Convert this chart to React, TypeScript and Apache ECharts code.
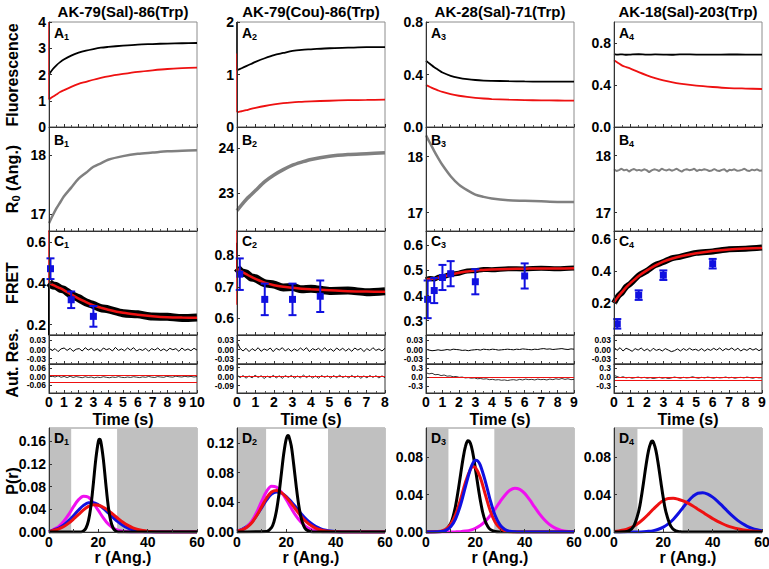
import React, { useEffect, useRef } from "react";
import * as echarts from "echarts";

// ---------------- data ----------------
const TITLES = ["AK-79(Sal)-86(Trp)", "AK-79(Cou)-86(Trp)", "AK-28(Sal)-71(Trp)", "AK-18(Sal)-203(Trp)"];

const T10 = [0, 0.25, 0.5, 0.75, 1, 1.5, 2, 2.5, 3, 3.5, 4, 5, 6, 7, 8, 9, 10];
const T8 = [0, 0.25, 0.5, 0.75, 1, 1.5, 2, 2.5, 3, 3.5, 4, 5, 6, 7, 8];
const T9 = [0, 0.25, 0.5, 0.75, 1, 1.5, 2, 2.5, 3, 3.5, 4, 5, 6, 7, 8, 9];
const T_MAX = [10, 8, 9, 9];

// A: fluorescence (black / red)
const A1_BLACK = [2.0, 2.2, 2.35, 2.47, 2.57, 2.72, 2.83, 2.91, 2.97, 3.02, 3.05, 3.1, 3.14, 3.16, 3.18, 3.19, 3.2];
const A1_RED = [1.05, 1.15, 1.24, 1.33, 1.4, 1.53, 1.64, 1.72, 1.8, 1.87, 1.93, 2.02, 2.1, 2.16, 2.21, 2.24, 2.26];
const A2_BLACK = [1.08, 1.12, 1.16, 1.2, 1.24, 1.31, 1.37, 1.41, 1.45, 1.47, 1.48, 1.5, 1.51, 1.52, 1.52];
const A2_RED = [0.28, 0.3, 0.32, 0.345, 0.365, 0.4, 0.43, 0.455, 0.47, 0.48, 0.49, 0.5, 0.51, 0.515, 0.52];
const A3_BLACK = [0.505, 0.48, 0.455, 0.435, 0.415, 0.39, 0.375, 0.365, 0.358, 0.354, 0.352, 0.349, 0.347, 0.346, 0.345, 0.345];
const A3_RED = [0.32, 0.305, 0.29, 0.278, 0.267, 0.25, 0.238, 0.229, 0.222, 0.217, 0.213, 0.208, 0.205, 0.203, 0.202, 0.201];
const A4_BLACK = [0.695, 0.69, 0.692, 0.688, 0.69, 0.693, 0.689, 0.691, 0.69, 0.688, 0.692, 0.69, 0.689, 0.691, 0.69, 0.69];
const A4_RED = [0.635, 0.61, 0.585, 0.57, 0.556, 0.522, 0.492, 0.466, 0.444, 0.427, 0.413, 0.394, 0.381, 0.371, 0.366, 0.362];
const A1_SPIKE_RED = [1.05, 4];
const A2_SPIKE_BLACK = [1.08, 2.0];
const A2_SPIKE_RED = [0.28, 1.4];

// B: R0 (Ang.)
const B1_GRAY = [16.85, 16.98, 17.1, 17.2, 17.3, 17.45, 17.6, 17.7, 17.8, 17.86, 17.92, 17.98, 18.02, 18.04, 18.06, 18.07, 18.08];
const B2_GRAY = [22.6, 22.73, 22.85, 22.95, 23.05, 23.25, 23.4, 23.52, 23.62, 23.69, 23.75, 23.82, 23.86, 23.88, 23.9];
const B3_GRAY = [18.38, 18.24, 18.1, 17.97, 17.85, 17.65, 17.5, 17.4, 17.32, 17.28, 17.25, 17.22, 17.21, 17.2, 17.19, 17.19];
const B4_GRAY = [17.76, 17.73, 17.745, 17.77, 17.74, 17.755, 17.72, 17.75, 17.765, 17.74, 17.75, 17.735, 17.76, 17.745, 17.71, 17.74, 17.76, 17.75, 17.73, 17.77, 17.75, 17.74, 17.76, 17.735, 17.75, 17.77, 17.74, 17.72, 17.75, 17.76, 17.745, 17.75, 17.77, 17.73, 17.75, 17.745, 17.76, 17.75, 17.73, 17.74, 17.765, 17.74, 17.73, 17.75, 17.76, 17.72, 17.75, 17.745, 17.76, 17.735, 17.74, 17.75, 17.77, 17.74, 17.73, 17.755, 17.74, 17.76, 17.735, 17.74];

// C: FRET data (black), fit (red), points with error [t, value, err]
const C1_DATA = [0.403, 0.389, 0.386, 0.374, 0.369, 0.344, 0.328, 0.307, 0.295, 0.28, 0.274, 0.255, 0.25, 0.239, 0.238, 0.232, 0.235];
const C1_FIT = [0.4, 0.392, 0.384, 0.376, 0.367, 0.346, 0.326, 0.309, 0.293, 0.282, 0.272, 0.257, 0.248, 0.241, 0.236, 0.234, 0.233];
const C2_DATA = [0.76, 0.746, 0.742, 0.73, 0.727, 0.711, 0.707, 0.698, 0.699, 0.692, 0.694, 0.687, 0.688, 0.683, 0.686];
const C2_FIT = [0.757, 0.748, 0.74, 0.732, 0.725, 0.713, 0.705, 0.7, 0.697, 0.694, 0.692, 0.689, 0.686, 0.685, 0.684];
const C3_DATA = [0.463, 0.468, 0.466, 0.473, 0.474, 0.485, 0.489, 0.498, 0.499, 0.504, 0.503, 0.507, 0.506, 0.509, 0.507, 0.51];
const C3_FIT = [0.465, 0.466, 0.468, 0.471, 0.475, 0.483, 0.491, 0.496, 0.5, 0.502, 0.504, 0.506, 0.507, 0.508, 0.508, 0.509];
const C4_DATA = [0.2, 0.243, 0.268, 0.303, 0.322, 0.373, 0.402, 0.438, 0.457, 0.481, 0.49, 0.515, 0.524, 0.538, 0.54, 0.548];
const C4_FIT = [0.205, 0.24, 0.27, 0.3, 0.325, 0.37, 0.405, 0.435, 0.46, 0.478, 0.492, 0.512, 0.526, 0.536, 0.542, 0.546];
const C1_POINTS = [[0.1, 0.47, 0.05], [1.5, 0.32, 0.04], [3, 0.24, 0.05]];
const C2_POINTS = [[0.15, 0.74, 0.05], [1.5, 0.66, 0.05], [3, 0.66, 0.05], [4.5, 0.67, 0.05]];
const C3_POINTS = [[0.1, 0.385, 0.075], [0.5, 0.42, 0.05], [1, 0.472, 0.05], [1.5, 0.487, 0.05], [3, 0.455, 0.05], [6, 0.478, 0.05]];
const C4_POINTS = [[0.2, 0.07, 0.03], [1.5, 0.25, 0.03], [3, 0.375, 0.03], [6, 0.447, 0.03]];
const C1_SPIKE_BLACK = [0.15, 0.4];
const C1_SPIKE_RED = [0.4, 0.66];
const C2_SPIKE_BLACK = [0.757, 0.84];
const C2_SPIKE_RED = [0.643, 0.88];

// Autocorrelation residuals
const RES1_1 = [0.006, -0.004, 0.003, -0.007, 0.002, 0.005, -0.003, 0.004, -0.006, 0.001, 0.003, -0.005, 0.006, -0.002, 0.004, -0.004, 0.002, -0.006, 0.005, -0.001, 0.003, -0.005, 0.007, -0.003, 0.002, -0.004, 0.005, -0.002, 0.006, -0.005, 0.001, -0.003, 0.004, -0.006, 0.003, -0.002, 0.005, -0.004, 0.002, -0.005, 0.004, -0.001, 0.003, -0.006, 0.005, -0.003, 0.002, -0.004, 0.004, -0.002];
const RES1_2 = [0.025, 0.004, -0.005, 0.004, -0.007, 0.003, -0.004, 0.006, -0.006, 0.002, -0.003, 0.005, -0.007, 0.004, -0.002, 0.006, -0.005, 0.003, -0.006, 0.002, -0.004, 0.005, -0.003, 0.006, -0.007, 0.003, -0.002, 0.004, -0.005, 0.006, -0.004, 0.002, -0.006, 0.005, -0.003, 0.004, -0.005, 0.003, -0.006, 0.005, -0.002, 0.004, -0.007, 0.003, -0.004, 0.006, -0.003, 0.002, -0.005, 0.004];
const RES1_3 = [0.001, -0.002, -0.004, -0.003, -0.001, -0.003, -0.002, 0.0, -0.002, 0.001, 0.0, -0.001, -0.003, -0.002, -0.004, -0.002, -0.001, 0.0, -0.002, 0.001, 0.0, -0.001, 0.001, 0.0, -0.002, -0.001, 0.0, 0.001, 0.0, -0.001, 0.001, 0.0, 0.002, 0.001, 0.0, -0.001, 0.001, 0.0, 0.002, 0.003, 0.001, 0.002, 0.0, 0.001, 0.002, 0.003, 0.001, 0.0, 0.002, 0.001];
const RES1_4 = [0.008, -0.003, 0.006, -0.005, 0.004, 0.0, -0.006, 0.003, -0.002, 0.005, -0.004, 0.002, -0.006, 0.004, -0.003, 0.001, -0.005, 0.003, -0.002, -0.007, -0.004, 0.002, -0.005, 0.003, -0.003, 0.004, -0.002, 0.001, -0.004, 0.003, -0.005, 0.002, -0.003, 0.004, -0.002, 0.005, -0.004, 0.003, -0.001, 0.005, -0.003, 0.004, -0.005, 0.002, -0.003, 0.004, -0.002, 0.003, -0.004, 0.002];
const RES2_1 = [0.01, 0.004, -0.002, 0.006, -0.004, 0.002, -0.006, 0.003, -0.005, 0.001, -0.003, -0.007, 0.0, -0.005, -0.002, -0.008, -0.003, -0.006, 0.0, -0.004, -0.007, -0.002, -0.005, 0.001, -0.004, -0.006, -0.002, -0.005, 0.0, -0.003, -0.006, -0.001, -0.004, 0.002, -0.003, -0.005, 0.001, -0.002, -0.004, 0.003, -0.001, -0.003, 0.004, 0.0, -0.002, 0.003, -0.001, 0.002, -0.002, 0.001];
const RES2_2 = [0.02, -0.01, 0.012, -0.015, 0.008, -0.012, 0.015, -0.008, 0.01, -0.018, 0.006, -0.01, 0.014, -0.012, 0.009, -0.016, 0.011, -0.007, 0.013, -0.014, 0.007, -0.011, 0.016, -0.009, 0.01, -0.013, 0.008, -0.015, 0.012, -0.006, 0.009, -0.014, 0.011, -0.01, 0.015, -0.008, 0.007, -0.012, 0.013, -0.009, 0.01, -0.016, 0.008, -0.011, 0.012, -0.007, 0.01, -0.013, 0.009, -0.01];
const RES2_3 = [0.15, 0.11, 0.13, 0.08, 0.09, 0.05, 0.07, 0.03, 0.04, 0.01, 0.02, -0.01, 0.0, -0.03, -0.02, -0.04, -0.03, -0.06, -0.05, -0.07, -0.06, -0.09, -0.08, -0.1, -0.09, -0.11, -0.1, -0.12, -0.1, -0.09, -0.11, -0.08, -0.1, -0.07, -0.09, -0.08, -0.1, -0.07, -0.09, -0.08, -0.1, -0.07, -0.09, -0.06, -0.08, -0.05, -0.08, -0.06, -0.09, -0.08];
const RES2_4 = [0.06, 0.02, -0.02, 0.01, -0.03, -0.01, -0.04, -0.02, 0.0, -0.03, -0.01, -0.04, -0.02, -0.05, -0.03, -0.01, -0.04, -0.02, -0.05, -0.03, 0.0, -0.02, -0.04, -0.01, -0.03, -0.02, 0.01, -0.02, -0.04, -0.01, -0.03, 0.0, -0.02, -0.04, -0.01, -0.03, -0.02, 0.0, -0.03, -0.01, -0.04, -0.02, -0.01, -0.03, 0.0, -0.02, -0.04, -0.01, -0.03, -0.02];
const RES2_REDLINES = [[0.008, -0.045], [0], [0], [0, -0.1]];

// D: distance distributions P(r), [r, P]
const D1_BLACK = [[0, 0], [13, 0], [14, 0.002], [15, 0.007], [16, 0.02], [17, 0.046], [18, 0.086], [19, 0.129], [20, 0.159], [20.5, 0.163], [21, 0.159], [22, 0.129], [23, 0.086], [24, 0.046], [25, 0.02], [26, 0.007], [27, 0.002], [28, 0], [60, 0]];
const D1_MAGENTA = [[0, 0], [2, 0.0048], [4, 0.01], [6, 0.019], [8, 0.031], [10, 0.045], [12, 0.057], [14, 0.063], [16, 0.061], [18, 0.051], [20, 0.038], [22, 0.025], [24, 0.014], [26, 0.007], [28, 0.003], [30, 0.0012], [32, 0.0004], [34, 0], [60, 0]];
const D1_BLUE = [[0, 0], [2, 0.0036], [4, 0.007], [6, 0.0124], [8, 0.02], [10, 0.029], [12, 0.0387], [14, 0.0468], [16, 0.0514], [18, 0.0515], [20, 0.048], [22, 0.0416], [24, 0.0336], [26, 0.0253], [28, 0.0177], [30, 0.0116], [32, 0.007], [34, 0.004], [36, 0.002], [38, 0.001], [40, 0.0005], [44, 0], [60, 0]];
const D1_RED = [[0, 0], [2, 0.003], [4, 0.0056], [6, 0.0096], [8, 0.0156], [10, 0.023], [12, 0.031], [14, 0.039], [16, 0.045], [18, 0.048], [20, 0.0472], [22, 0.0436], [24, 0.0379], [26, 0.0309], [28, 0.0237], [30, 0.0171], [32, 0.0116], [34, 0.0073], [36, 0.0044], [38, 0.0025], [40, 0.0013], [42, 0.0006], [44, 0], [60, 0]];
const D2_BLACK = [[0, 0], [12, 0.0007], [14, 0.006], [15, 0.014], [16, 0.0286], [17, 0.0508], [18, 0.079], [19, 0.1066], [20, 0.1257], [20.7, 0.13], [21, 0.129], [22, 0.116], [23, 0.0905], [24, 0.0618], [25, 0.0367], [26, 0.019], [27, 0.0086], [28, 0.0034], [30, 0.0003], [32, 0], [60, 0]];
const D2_MAGENTA = [[0, 0.0009], [2, 0.0027], [4, 0.0068], [6, 0.0146], [8, 0.0266], [10, 0.0414], [12, 0.0547], [14, 0.0617], [16, 0.0604], [18, 0.0536], [20, 0.0433], [22, 0.0319], [24, 0.0213], [26, 0.013], [28, 0.0071], [30, 0.0036], [32, 0.0017], [34, 0.0007], [36, 0.0003], [38, 0], [60, 0]];
const D2_RED = [[0, 0.001], [2, 0.0028], [4, 0.0063], [6, 0.0125], [8, 0.0221], [10, 0.034], [12, 0.0458], [14, 0.0539], [16, 0.0559], [18, 0.053], [20, 0.0468], [22, 0.0385], [24, 0.0295], [26, 0.021], [28, 0.014], [30, 0.0086], [32, 0.005], [34, 0.0027], [36, 0.0014], [38, 0.0006], [40, 0.0003], [42, 0], [60, 0]];
const D2_BLUE = [[0, 0.0015], [2, 0.0036], [4, 0.0073], [6, 0.0134], [8, 0.0222], [10, 0.0328], [12, 0.0432], [14, 0.0511], [16, 0.054], [18, 0.0523], [20, 0.0477], [22, 0.0408], [24, 0.0328], [26, 0.0247], [28, 0.0175], [30, 0.0117], [32, 0.0073], [34, 0.0043], [36, 0.0024], [38, 0.0012], [40, 0.0006], [44, 0], [60, 0]];
const D3_BLACK = [[0, 0], [6, 0.0003], [8, 0.002], [10, 0.0091], [11, 0.0168], [12, 0.0282], [13, 0.0437], [14, 0.0612], [15, 0.0784], [16, 0.0917], [17, 0.0978], [18, 0.0952], [19, 0.0845], [20, 0.0683], [21, 0.0506], [22, 0.0342], [23, 0.0209], [24, 0.0118], [25, 0.0061], [26, 0.0028], [28, 0.0005], [30, 0], [60, 0]];
const D3_RED = [[0, 0], [6, 0.0009], [8, 0.003], [10, 0.0083], [12, 0.0188], [14, 0.035], [16, 0.0535], [18, 0.0671], [19, 0.0699], [20, 0.0692], [22, 0.0585], [24, 0.0406], [26, 0.0231], [28, 0.0108], [30, 0.0041], [32, 0.0013], [34, 0.0003], [36, 0], [60, 0]];
const D3_BLUE = [[0, 0], [6, 0.0005], [8, 0.0018], [10, 0.0056], [12, 0.0142], [14, 0.0289], [16, 0.0488], [18, 0.0676], [19, 0.0738], [20, 0.0768], [21, 0.0761], [22, 0.0717], [24, 0.0549], [26, 0.0345], [28, 0.0179], [30, 0.0076], [32, 0.0026], [34, 0.0008], [36, 0.0002], [38, 0], [60, 0]];
const D3_MAGENTA = [[0, 0], [12, 0.0002], [14, 0.0004], [16, 0.001], [18, 0.002], [20, 0.0039], [22, 0.0069], [24, 0.0114], [26, 0.0174], [28, 0.0246], [30, 0.0324], [32, 0.0395], [34, 0.0447], [36, 0.047], [38, 0.0457], [40, 0.0414], [42, 0.0346], [44, 0.0269], [46, 0.0194], [48, 0.0131], [50, 0.0081], [52, 0.0047], [54, 0.0025], [56, 0.0012], [58, 0.0006], [60, 0.0003]];
const D4_BLACK = [[0, 0], [4, 0.0002], [6, 0.0012], [8, 0.0063], [10, 0.0221], [11, 0.036], [12, 0.0534], [13, 0.0715], [14, 0.0869], [15, 0.0958], [15.5, 0.097], [16, 0.0958], [17, 0.0869], [18, 0.0715], [19, 0.0534], [20, 0.036], [21, 0.0221], [23, 0.0063], [25, 0.0012], [27, 0.0002], [28, 0], [60, 0]];
const D4_RED = [[0, 0.0006], [2, 0.0012], [4, 0.0021], [6, 0.0038], [8, 0.0062], [10, 0.0096], [12, 0.014], [14, 0.0191], [16, 0.0245], [18, 0.0296], [20, 0.0336], [22, 0.0357], [24, 0.0359], [26, 0.035], [28, 0.0332], [30, 0.0308], [32, 0.0278], [34, 0.0244], [36, 0.021], [38, 0.0175], [40, 0.0143], [42, 0.0113], [44, 0.0088], [46, 0.0066], [48, 0.0049], [50, 0.0035], [52, 0.0024], [54, 0.0017], [56, 0.0011], [58, 0.0007], [60, 0.0004]];
const D4_BLUE = [[0, 0], [10, 0.0001], [12, 0.0003], [14, 0.0007], [16, 0.0015], [18, 0.0029], [20, 0.0052], [22, 0.0087], [24, 0.0134], [26, 0.0194], [28, 0.0262], [30, 0.0327], [32, 0.0381], [34, 0.0414], [36, 0.0419], [38, 0.0404], [40, 0.0372], [42, 0.0328], [44, 0.0276], [46, 0.0223], [48, 0.0172], [50, 0.0127], [52, 0.009], [54, 0.0061], [56, 0.0039], [58, 0.0024], [60, 0.0014]];
const D_SHADE = [[[0, 9], [27.6, 60]], [[0, 11.8], [36.9, 60]], [[0, 9.1], [27.7, 60]], [[0, 9.5], [27.8, 60]]];

// axis ranges and tick labels
const Y_RANGE = [
  [[0, 4], [0, 2], [0, 0.8], [0, 1.0]],
  [[16.72, 18.47], [22.14, 24.48], [16.67, 18.53], [16.68, 18.5]],
  [[0.15, 0.652], [0.547, 0.877], [0.243, 0.657], [0, 0.652]],
  [[-0.048, 0.048], [-0.048, 0.048], [-0.048, 0.048], [-0.048, 0.048]],
  [[-0.115, 0.09], [-0.163, 0.127], [-0.55, 0.45], [-0.55, 0.45]],
  [[0, 0.183], [0, 0.14], [0, 0.1115], [0, 0.111]],
];
const Y_TICKS = [
  [[0, 1, 2, 3, 4], [0, 1, 2], [0, 0.4, 0.8], [0, 0.4, 0.8]],
  [[17, 18], [23, 24], [17, 18], [17, 18]],
  [[0.2, 0.4, 0.6], [0.6, 0.7, 0.8], [0.3, 0.4, 0.5, 0.6], [0.2, 0.4, 0.6]],
  [[-0.03, 0.03], [-0.03, 0.03], [-0.03, 0.03], [-0.03, 0.03]],
  [[-0.06, 0.06], [-0.09, 0.09], [-0.3, 0.3], [-0.3, 0.3]],
  [[0, 0.04, 0.08, 0.12, 0.16], [0, 0.04, 0.08, 0.12], [0, 0.04, 0.08], [0, 0.04, 0.08]],
];
const RES_ZERO_TICK = [0];
const Y_DEC = [[0, 0, 1, 1], [0, 0, 0, 0], [1, 1, 1, 1], [2, 2, 2, 2], [2, 2, 1, 1], [2, 2, 2, 2]];
const R_TICKS = [0, 20, 40, 60];

// ---------------- layout / style ----------------
const FONT = '"Liberation Sans", Arial, Helvetica, sans-serif';
const RED = "#ee1111";
const BLUE = "#1010e0";
const MAGENTA = "#f010f0";
const GRAY = "#808080";
const SHADE = "#c0c0c0";
const COL_X = [49, 237, 426, 614];
const COL_W = 148;
const ROW_Y = [22, 127, 231, 335, 364, 428];
const ROW_H = [105, 104, 104, 29, 29, 104];

const zip = (ts: number[], vs: number[]) => vs.map((v, i) => [ts[i], v]);
const spread = (vs: number[], tMax: number) => vs.map((v, i) => [(i * tMax) / (vs.length - 1), v]);
const spike = (ys: number[]) => ys.map((y) => [0, y]);

function buildOption() {
  const grids: any[] = [];
  const xAxes: any[] = [];
  const yAxes: any[] = [];
  const extraY: any[] = [];
  const series: any[] = [];
  const gi = (r: number, c: number) => r * 4 + c;

  for (let r = 0; r < 6; r++) {
    for (let c = 0; c < 4; c++) {
      const isRes = r === 3 || r === 4;
      grids.push({
        left: COL_X[c], top: ROW_Y[r], width: COL_W, height: ROW_H[r],
        show: true, borderColor: isRes ? "#333" : "#8c8c8c", borderWidth: 1,
        backgroundColor: "transparent", containLabel: false, outerBoundsMode: "none",
      });
      const isD = r === 5;
      xAxes.push({
        type: "value", gridIndex: gi(r, c), position: "bottom", z: 10,
        min: 0, max: isD ? 60 : T_MAX[c], interval: isD ? 10 : 1,
        axisLine: { show: true, onZero: false, lineStyle: { color: "#333", width: 1 } },
        axisTick: { show: true, inside: true, length: 3, lineStyle: { color: "#333" } },
        minorTick: { show: !isD, splitNumber: 2, length: 2, lineStyle: { color: "#555" } },
        splitLine: { show: false },
        axisLabel: isD
          ? { show: true, customValues: R_TICKS, hideOverlap: false, fontFamily: FONT, fontWeight: "bold", fontSize: 14, color: "#000", margin: 3 }
          : { show: r === 4, hideOverlap: false, fontFamily: FONT, fontWeight: "bold", fontSize: 14, color: "#000", margin: 2 },
      });
      const ticks = Y_TICKS[r][c];
      const dec = Y_DEC[r][c];
      const labelStyle = {
        fontFamily: FONT, fontWeight: "bold", fontSize: isRes ? 8.5 : 14,
        lineHeight: isRes ? 7 : 16, color: "#000", margin: 3,
      };
      yAxes.push({
        type: "value", gridIndex: gi(r, c), z: 10,
        min: Y_RANGE[r][c][0], max: Y_RANGE[r][c][1],
        axisLine: { show: true, onZero: false, lineStyle: { color: "#333", width: 1 } },
        axisTick: { show: true, inside: true, length: 3, customValues: ticks, lineStyle: { color: "#333" } },
        splitLine: { show: false },
        axisLabel: {
          show: true, customValues: ticks, interval: 0, hideOverlap: false,
          showMinLabel: true, showMaxLabel: true,
          formatter: (v: number) => v.toFixed(dec), ...labelStyle,
        },
      });
      if (isRes) {
        // separate axis on the same grid carrying the middle "0" label
        extraY.push({
          type: "value", gridIndex: gi(r, c), z: 10, position: "left",
          min: Y_RANGE[r][c][0], max: Y_RANGE[r][c][1],
          axisLine: { show: false, onZero: false },
          axisTick: { show: true, inside: true, length: 3, customValues: RES_ZERO_TICK, lineStyle: { color: "#333" } },
          splitLine: { show: false },
          axisLabel: {
            show: true, customValues: RES_ZERO_TICK, hideOverlap: false,
            formatter: (v: number) => v.toFixed(dec), ...labelStyle,
          },
        });
      }
    }
  }

  const line = (g: number, data: any[], color: string, width: number, z = 2, smooth: any = 0.3) => ({
    type: "line", xAxisIndex: g, yAxisIndex: g, data, showSymbol: false, symbol: "none",
    lineStyle: { color, width }, itemStyle: { color }, smooth, z, silent: true, animation: false,
  });

  // Row A
  const A = [[A1_BLACK, A1_RED], [A2_BLACK, A2_RED], [A3_BLACK, A3_RED], [A4_BLACK, A4_RED]];
  const TS = [T10, T8, T9, T9];
  A.forEach(([b, rd], c) => {
    series.push(line(gi(0, c), zip(TS[c], b), "#000", 1.8));
    series.push(line(gi(0, c), zip(TS[c], rd), RED, 1.8));
  });
  series.push(line(gi(0, 0), spike(A1_SPIKE_RED), RED, 1.5, 3, false));
  series.push(line(gi(0, 1), spike(A2_SPIKE_BLACK), "#000", 1.5, 3, false));
  series.push(line(gi(0, 1), spike(A2_SPIKE_RED), RED, 1.5, 3, false));

  // Row B
  series.push(line(gi(1, 0), zip(T10, B1_GRAY), GRAY, 2.5));
  series.push(line(gi(1, 1), zip(T8, B2_GRAY), GRAY, 3.5));
  series.push(line(gi(1, 2), zip(T9, B3_GRAY), GRAY, 2.5));
  series.push(line(gi(1, 3), spread(B4_GRAY, 9), GRAY, 2, 2, false));

  // Row C
  const C = [[C1_DATA, C1_FIT, C1_POINTS, 8], [C2_DATA, C2_FIT, C2_POINTS, 8], [C3_DATA, C3_FIT, C3_POINTS, 5], [C4_DATA, C4_FIT, C4_POINTS, 6]] as any[];
  C.forEach(([d, f, p, w], c) => {
    const g = gi(2, c);
    series.push(line(g, zip(TS[c], d), "#000", w, 2));
    series.push(line(g, zip(TS[c], f), RED, 2.5, 3));
    series.push({
      type: "custom", xAxisIndex: g, yAxisIndex: g, data: p, z: 5, silent: true, animation: false,
      encode: { x: 0, y: 1 },
      renderItem: (_params: any, api: any) => {
        const x = api.value(0), y = api.value(1), e = api.value(2);
        const top = api.coord([x, y + e]);
        const bot = api.coord([x, y - e]);
        const mid = api.coord([x, y]);
        const st = { stroke: BLUE, lineWidth: 2 };
        return {
          type: "group",
          children: [
            { type: "line", shape: { x1: top[0], y1: top[1], x2: bot[0], y2: bot[1] }, style: st },
            { type: "line", shape: { x1: top[0] - 4, y1: top[1], x2: top[0] + 4, y2: top[1] }, style: st },
            { type: "line", shape: { x1: bot[0] - 4, y1: bot[1], x2: bot[0] + 4, y2: bot[1] }, style: st },
            { type: "rect", shape: { x: mid[0] - 3.5, y: mid[1] - 3.5, width: 7, height: 7 }, style: { fill: BLUE } },
          ],
        };
      },
    });
  });
  series.push(line(gi(2, 0), spike(C1_SPIKE_BLACK), "#000", 2, 4, false));
  series.push(line(gi(2, 0), spike(C1_SPIKE_RED), RED, 1.5, 4, false));
  series.push(line(gi(2, 1), spike(C2_SPIKE_BLACK), "#000", 2, 4, false));
  series.push(line(gi(2, 1), spike(C2_SPIKE_RED), RED, 1.5, 4, false));

  // Residual rows
  [RES1_1, RES1_2, RES1_3, RES1_4].forEach((vs, c) => {
    series.push(line(gi(3, c), spread(vs, T_MAX[c]), "#000", 1, 2, false));
  });
  [RES2_1, RES2_2, RES2_3, RES2_4].forEach((vs, c) => {
    series.push(line(gi(4, c), spread(vs, T_MAX[c]), "#000", 0.8, 3, false));
    series.push({
      type: "line", xAxisIndex: gi(4, c), yAxisIndex: gi(4, c), data: [], z: 2, silent: true,
      markLine: {
        silent: true, symbol: "none", animation: false, label: { show: false },
        lineStyle: { color: RED, width: 1, type: "solid" },
        data: RES2_REDLINES[c].map((v) => ({ yAxis: v })),
      },
    });
  });

  // Row D
  const D = [
    [D1_MAGENTA, D1_BLUE, D1_RED, D1_BLACK],
    [D2_BLUE, D2_MAGENTA, D2_RED, D2_BLACK],
    [D3_MAGENTA, D3_BLACK, D3_RED, D3_BLUE],
    [D4_BLUE, D4_RED, D4_BLACK],
  ];
  const DC = [
    [MAGENTA, BLUE, RED, "#000"],
    [BLUE, MAGENTA, RED, "#000"],
    [MAGENTA, "#000", RED, BLUE],
    [BLUE, RED, "#000"],
  ];
  D.forEach((curves, c) => {
    const g = gi(5, c);
    series.push({
      type: "line", xAxisIndex: g, yAxisIndex: g, data: [[0, 0], [60, 0]], z: 1, silent: true,
      showSymbol: false, lineStyle: { opacity: 0 },
      markArea: {
        silent: true, animation: false, itemStyle: { color: SHADE },
        data: D_SHADE[c].map(([a, b]) => [{ xAxis: a }, { xAxis: b }]),
      },
    });
    curves.forEach((cv, k) => {
      series.push(line(g, cv, DC[c][k], 3, 3 + k, 0.35));
    });
  });

  // Graphic texts
  const graphic: any[] = [];
  const txt = (x: number, y: number, text: string, size: number, rot = 0) => ({
    type: "text", x, y, rotation: rot, z: 100, silent: true,
    style: { text, fill: "#000", font: `bold ${size}px ${FONT}`, align: "center", verticalAlign: "middle" },
  });
  TITLES.forEach((t, c) => graphic.push(txt(COL_X[c] + COL_W / 2, 11, t, 15)));
  TITLES.forEach((_t, c) => graphic.push(txt(COL_X[c] + COL_W / 2, 419, "Time (s)", 16)));
  TITLES.forEach((_t, c) => graphic.push(txt(COL_X[c] + COL_W / 2, 557, "r (Ang.)", 16)));
  graphic.push(txt(12, 75, "Fluorescence", 16, Math.PI / 2));
  graphic.push(txt(12, 283, "FRET", 16, Math.PI / 2));
  graphic.push(txt(12, 363, "Aut. Res.", 16, Math.PI / 2));
  graphic.push(txt(12, 481, "P(r)", 16, Math.PI / 2));
  graphic.push({
    type: "text", x: 12, y: 179, rotation: Math.PI / 2, z: 100, silent: true,
    style: {
      text: "{m|R}{s|0}{m| (Ang.)}", align: "center", verticalAlign: "middle",
      rich: {
        m: { fontFamily: FONT, fontWeight: "bold", fontSize: 16, fill: "#000", lineHeight: 18, verticalAlign: "middle" },
        s: { fontFamily: FONT, fontWeight: "bold", fontSize: 11, fill: "#000", lineHeight: 10, verticalAlign: "bottom" },
      },
    },
  });
  const LETTERS = ["A", "B", "C", "", "", "D"];
  const LABEL_DY = [11, 13, 10, 0, 0, 10];
  [0, 1, 2, 5].forEach((r) => {
    for (let c = 0; c < 4; c++) {
      graphic.push({
        type: "text", x: COL_X[c] + 5, y: ROW_Y[r] + LABEL_DY[r], z: 100, silent: true,
        style: {
          text: `{m|${LETTERS[r]}}{s|${c + 1}}`, align: "left", verticalAlign: "middle",
          rich: {
            m: { fontFamily: FONT, fontWeight: "bold", fontSize: 14, fill: "#000", lineHeight: 16, verticalAlign: "middle" },
            s: { fontFamily: FONT, fontWeight: "bold", fontSize: 9, fill: "#000", lineHeight: 8, verticalAlign: "bottom" },
          },
        },
      });
    }
  });

  return {
    animation: false,
    backgroundColor: "#ffffff",
    grid: grids,
    xAxis: xAxes,
    yAxis: [...yAxes, ...extraY],
    series,
    graphic,
  };
}

export default function App() {
  const ref = useRef<HTMLDivElement>(null);
  useEffect(() => {
    const chart = echarts.init(ref.current as HTMLDivElement, null, { renderer: "svg" });
    chart.setOption(buildOption() as any);
    return () => chart.dispose();
  }, []);
  return (
    <div
      ref={ref}
      style={{ position: "absolute", left: 0, top: 0, width: 769, height: 569, background: "#fff" }}
    />
  );
}
